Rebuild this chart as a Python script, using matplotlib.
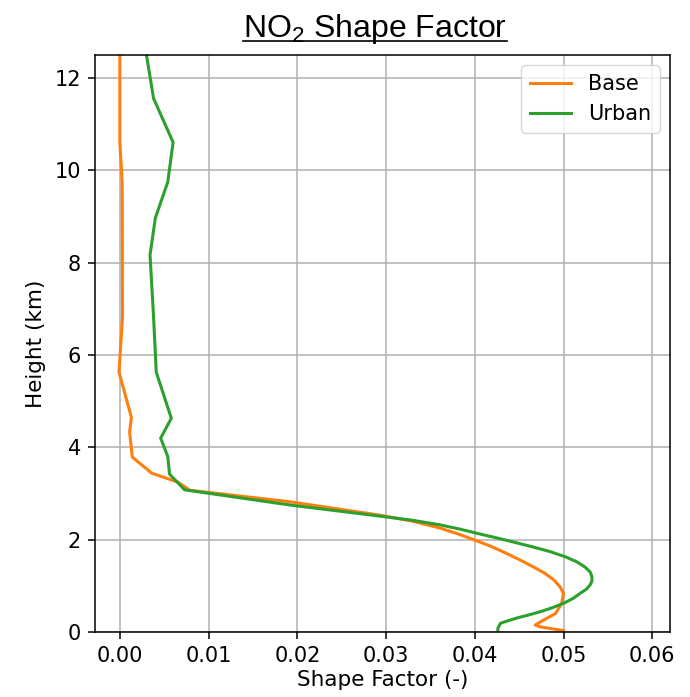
import matplotlib.pyplot as plt
from matplotlib.lines import Line2D

# Base profile (shape factor vs height in km)
base_height = [12.5, 10.6, 9.75, 6.82, 5.63, 4.65, 4.33, 3.79, 3.44, 3.25, 3.07,
               2.82, 2.53, 2.40, 2.25, 2.12, 1.99, 1.85, 1.70, 1.55, 1.41, 1.27, 1.13, 0.98,
               0.84, 0.62, 0.40, 0.22, 0.15, 0.11, 0.03]
base_sf = [0.0, 0.0, 0.00026, 0.0003, -0.0001, 0.0013, 0.0011, 0.0014, 0.0036, 0.0065, 0.0079,
           0.0192, 0.0293, 0.0330, 0.0361, 0.0382, 0.0400, 0.0419, 0.0436, 0.0452, 0.0466,
           0.0479, 0.0489, 0.0496, 0.0500, 0.0498, 0.0491, 0.0474, 0.0468, 0.0474, 0.0500]

# Urban profile
urban_height = [12.5, 11.56, 10.61, 9.75, 8.97, 8.17, 6.82, 5.63, 4.63, 4.2, 3.8, 3.42, 3.08,
                2.75, 2.51, 2.42, 2.32, 2.23, 2.14, 2.00, 1.85, 1.74, 1.63, 1.52, 1.41, 1.30,
                1.20, 1.10, 1.02, 0.93, 0.84, 0.73, 0.62, 0.53, 0.44, 0.37, 0.30, 0.19, 0.08, 0.0]
urban_sf = [0.0030, 0.0038, 0.0060, 0.0054, 0.0040, 0.0034, 0.0038, 0.0041, 0.0058, 0.0046, 0.0054,
            0.0056, 0.0073, 0.0192, 0.0293, 0.0330, 0.0361, 0.0383, 0.0402, 0.0433, 0.0464,
            0.0485, 0.0502, 0.0515, 0.0524, 0.0530, 0.0532, 0.0532, 0.0530, 0.0526, 0.0519,
            0.0511, 0.0500, 0.0488, 0.0474, 0.0461, 0.0447, 0.0429, 0.0426, 0.0426]

fig = plt.figure(figsize=(6.9, 6.97), dpi=100)
ax = fig.add_axes([0.1377, 0.0933, 0.8333, 0.8277])

ax.plot(base_sf, base_height, color='tab:orange', linewidth=2.2, label='Base')
ax.plot(urban_sf, urban_height, color='tab:green', linewidth=2.2, label='Urban')

ax.set_xlim(-0.0028, 0.062)
ax.set_ylim(0, 12.5)
ax.set_xticks([0.0, 0.01, 0.02, 0.03, 0.04, 0.05, 0.06])
ax.set_yticks([0, 2, 4, 6, 8, 10, 12])
ax.tick_params(labelsize=15, length=5, width=1.1, pad=5)
for s in ax.spines.values():
    s.set_linewidth(1.1)
ax.grid(True, linewidth=1.1)
ax.set_axisbelow(True)
ax.set_xlabel('Shape Factor (-)', fontsize=15.5, labelpad=3)
ax.set_ylabel('Height (km)', fontsize=15.5, labelpad=6)
ax.legend(loc='upper right', fontsize=15)

plt.rcParams['mathtext.fontset'] = 'custom'
plt.rcParams['mathtext.rm'] = 'Liberation Sans'
plt.rcParams['mathtext.it'] = 'Liberation Sans'
title = fig.text(0.5435, 0.947, r'NO$_2$ Shape Factor', ha='center', va='baseline',
                 fontsize=23, family='Liberation Sans')

# underline the title
fig.canvas.draw()
bb = title.get_window_extent().transformed(fig.transFigure.inverted())
fig.add_artist(Line2D([bb.x0, bb.x1], [0.941, 0.941], color='black', linewidth=1.2,
                      transform=fig.transFigure))

fig.savefig('out.png', dpi=100)
